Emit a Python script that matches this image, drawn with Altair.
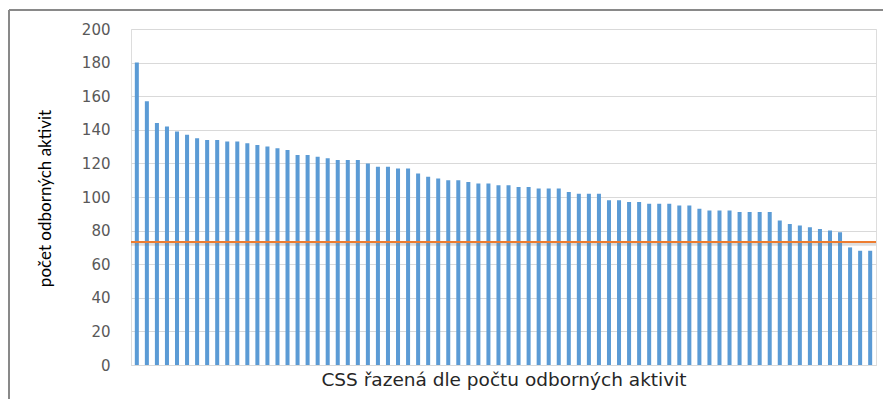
import altair as alt
import pandas as pd

# Values (CSS sorted by number of professional activities)
values = [180, 157, 144, 142, 139, 137, 135, 134, 134, 133, 133, 132, 131, 130, 129, 128, 125, 125,
          124, 123, 122, 122, 122, 120, 118, 118, 117, 117, 114, 112, 111, 110, 110, 109, 108, 108,
          107, 107, 106, 106, 105, 105, 105, 103, 102, 102, 102, 98, 98, 97, 97, 96, 96, 96, 95,
          95, 93, 92, 92, 92, 91, 91, 91, 91, 86, 84, 83, 82, 81, 80, 79, 70, 68, 68]
ranks = list(range(1, len(values) + 1))
mean_line = [73.2]
y_ticks = [0, 20, 40, 60, 80, 100, 120, 140, 160, 180, 200]

df = pd.DataFrame({"rank": ranks, "value": values})
df_mean = pd.DataFrame({"value": mean_line})
one = pd.DataFrame({"a": [0]})

W, H = 745, 336
yscale = alt.Scale(domain=[0, 200], nice=False)
yaxis = alt.Axis(values=y_ticks, domain=False, ticks=False, grid=True,
                 gridColor="#D9D9D9", labelPadding=21, labelFont="DejaVu Sans",
                 labelFontSize=15, labelColor="#595959", labelOverlap=False,
                 title="počet odborných aktivit", titleFont="Lato", titleFontSize=17,
                 titleFontWeight="normal", titleColor="#000000",
                 titleAngle=-90, titleX=-86, titleY=169, titleAlign="center",
                 titleBaseline="middle")

bars = alt.Chart(df).mark_bar(color="#5B9BD5").encode(
    x=alt.X("rank:O",
            scale=alt.Scale(paddingInner=0.6, paddingOuter=0.38),
            axis=alt.Axis(labels=False, ticks=False, domain=True, domainColor="#D9D9D9",
                          grid=False, title="CSS řazená dle počtu odborných aktivit",
                          titleFont="DejaVu Sans", titleFontSize=18.5, titleFontWeight="normal",
                          titleColor="#262626", titlePadding=5)),
    y=alt.Y("value:Q", scale=yscale, axis=yaxis),
)

shadow = alt.Chart(df_mean).transform_calculate(
    value="datum.value - 1.1"
).mark_rule(color="#7F7F7F", opacity=0.25, strokeWidth=4).encode(
    y=alt.Y("value:Q", scale=yscale, axis=yaxis)
)

mean_rule = alt.Chart(df_mean).mark_rule(color="#ED7D31", strokeWidth=2).encode(
    y=alt.Y("value:Q", scale=yscale, axis=yaxis)
)

border_top = alt.Chart(one).mark_rule(color="#898989", strokeWidth=2).encode(
    x=alt.value(-122), x2=alt.value(770), y=alt.value(-19))
border_left = alt.Chart(one).mark_rule(color="#898989", strokeWidth=2).encode(
    x=alt.value(-122), y=alt.value(-19), y2=alt.value(380))

chart = alt.layer(bars, shadow, mean_rule, border_top, border_left).properties(
    width=W, height=H,
    autosize=alt.AutoSizeParams(type="none"),
    padding={"left": 123, "top": 21, "right": 7, "bottom": 34},
).configure_view(stroke=None).configure_axis(labelOverlap=False).configure(background="white")

chart.save("out.html", embed_options={"renderer": "svg", "actions": False})
